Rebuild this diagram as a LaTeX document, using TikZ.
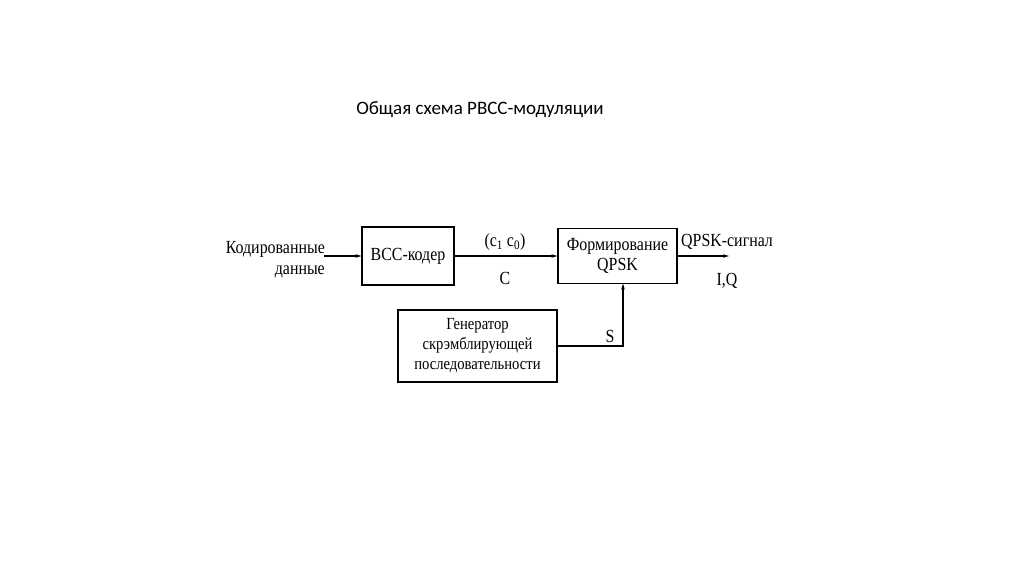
\documentclass[tikz,border=0pt]{standalone}
\usepackage{fontspec}
\setmainfont{Liberation Serif}
\newfontfamily\diag[FakeStretch=0.86]{Liberation Serif}
\newfontfamily\titlefont{Carlito}
\usetikzlibrary{arrows.meta}
\begin{document}
\begin{tikzpicture}[x=1pt,y=-1pt,
  blk/.style={draw,line width=1.2pt,rectangle,inner sep=0pt,font=\diag\fontsize{18.5}{20.5}\selectfont,align=center},
  lbl/.style={font=\diag\fontsize{18.5}{21}\selectfont,inner sep=0pt,align=center},
  conn/.style={line width=1.1pt,-{Stealth[length=6pt,width=3.5pt]}}]
\useasboundingbox (0,0) rectangle (1024,574);
\fill[white] (0,0) rectangle (1024,574);
\node[font=\titlefont\fontsize{19}{22}\selectfont,inner sep=0pt] (title) at (480,110) {Общая схема PBCC-модуляции};
\node[blk,minimum width=92pt,minimum height=58pt] (coder) at (408,256) {ВСС-кодер};
\node[blk,minimum width=119pt,minimum height=55pt] (qpsk) at (617.5,256) {Формирование\\QPSK};
\node[blk,minimum width=159pt,minimum height=72pt,font=\diag\fontsize{17}{20}\selectfont] (gen) at (477.5,346) {Генератор\\скрэмблирующей\\последовательности};
\coordinate (inp) at (324,256);
\coordinate (out) at (729,256);
\coordinate (sin) at (623,283.5);
\node[lbl,anchor=east,align=right] (indata) at (325,260) {Кодированные\\данные};
\node[lbl] (c10) at (505,242) {(c\textsubscript{1} c\textsubscript{0})};
\node[lbl] (clab) at (505,278) {C};
\node[lbl,anchor=west] (qsig) at (681,242) {QPSK-сигнал};
\node[lbl] (iq) at (727,281) {I,Q};
\node[lbl] (slab) at (610,336) {S};
\draw[conn] (inp) -- (coder);
\draw[conn] (coder) -- (qpsk);
\draw[conn] (qpsk) -- (out);
\draw[conn] (gen.east) -| (sin);
\end{tikzpicture}
\end{document}
